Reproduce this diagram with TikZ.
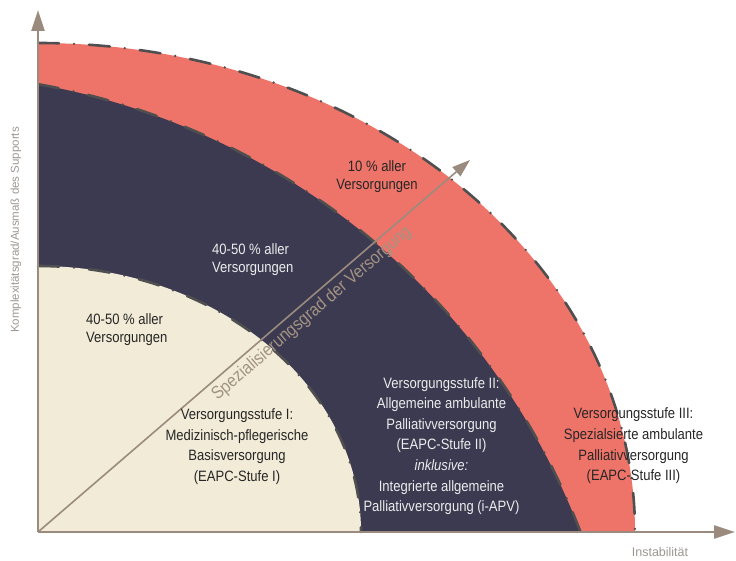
\documentclass[tikz,border=0pt]{standalone}
\usepackage{fontspec}
\setmainfont{Liberation Sans}[FakeStretch=0.87]
\newfontfamily\axisfont{Liberation Sans}
\usetikzlibrary{arrows.meta}
\definecolor{redfill}{HTML}{EE7469}
\definecolor{darkfill}{HTML}{3C3A51}
\definecolor{beigefill}{HTML}{F1EBD7}
\definecolor{axiscol}{HTML}{9B8B7E}
\definecolor{bordercol}{HTML}{4F4F4F}
\definecolor{labelgray}{HTML}{9E9690}
\definecolor{diagtextcol}{HTML}{A39383}
\definecolor{darktext}{HTML}{262626}
\definecolor{lighttext}{HTML}{ECECEC}
\begin{document}
\begin{tikzpicture}[x=1pt,y=1pt,
  ring border/.style={draw=bordercol, line width=2.6pt, line cap=round,
    dash pattern=on 21pt off 15pt on 0pt off 15pt},
  axisline/.style={draw=axiscol, line width=2.5pt, -{Triangle[length=21pt,width=13pt]}},
  diagline/.style={draw=axiscol, line width=1.6pt, -{Triangle[length=18pt,width=12pt]}},
  pct/.style={font=\fontsize{15}{18}\selectfont, inner sep=0pt},
  stage/.style={font=\fontsize{15}{20.6}\selectfont, align=center, inner sep=0pt},
  axislabel/.style={font=\axisfont\fontsize{11.5}{13}\selectfont, text=labelgray, inner sep=0pt},
  diagtext/.style={font=\fontsize{18}{20}\selectfont, text=diagtextcol, inner sep=4pt}]
\useasboundingbox (0,0) rectangle (736,560);
\coordinate (O) at (38,28);
\coordinate (Ytip) at (38,550);
\coordinate (Xtip) at (735,28);
\coordinate (Dtip) at (470,400);
% fills
\fill[redfill] (O) -- ++(597,0) arc[start angle=0,end angle=90,x radius=597,y radius=489] -- cycle;
\fill[darkfill] (O) -- ++(542.5,0) arc[start angle=21.0,end angle=79.92,radius=715] -- cycle;
\fill[beigefill] (O) -- ++(323,0) arc[start angle=0,end angle=90,x radius=323,y radius=266] -- cycle;
% borders
\draw[ring border] (38,517) arc[start angle=90,end angle=0,x radius=597,y radius=489];
\draw[ring border] (38.1,475.8) arc[start angle=79.92,end angle=21.0,radius=715];
\draw[ring border] (38,294) arc[start angle=90,end angle=0,x radius=323,y radius=266];
% diagonal
\draw[diagline] (O) -- node[pos=0.614, sloped, anchor=north, diagtext] (dlab) {Spezialisierungsgrad der Versorgung} (Dtip);
% axes
\draw[axisline] (O) -- (Ytip);
\draw[axisline] (O) -- (Xtip);
\node[axislabel, rotate=90] (ylab) at (16,330) {Komplexitätsgrad/Ausmaß des Supports};
\node[axislabel, font=\axisfont\fontsize{12.5}{14}\selectfont] (xlab) at (660,8) {Instabilität};
% percentages
\node[pct, align=center, text=darktext] (p3) at (377,383.5) {10 \% aller\\Versorgungen};
\node[pct, align=left, anchor=west, text=lighttext] (p2) at (212,300) {40-50 \% aller\\Versorgungen};
\node[pct, align=left, anchor=west, text=darktext] (p1) at (86,230.5) {40-50 \% aller\\Versorgungen};
% stages
\node[stage, text=darktext] (s1) at (237,113.5) {Versorgungsstufe I:\\Medizinisch-pflegerische\\Basisversorgung\\(EAPC-Stufe I)};
\node[stage, text=lighttext] (s2) at (441.5,114) {Versorgungsstufe II:\\Allgemeine ambulante\\Palliativversorgung\\(EAPC-Stufe II)\\\textit{inklusive:}\\Integrierte allgemeine\\Palliativversorgung (i-APV)};
\node[stage, text=darktext] (s3) at (633.5,114) {Versorgungsstufe III:\\Spezialsierte ambulante\\Palliativversorgung\\(EAPC-Stufe III)};
\end{tikzpicture}
\end{document}
